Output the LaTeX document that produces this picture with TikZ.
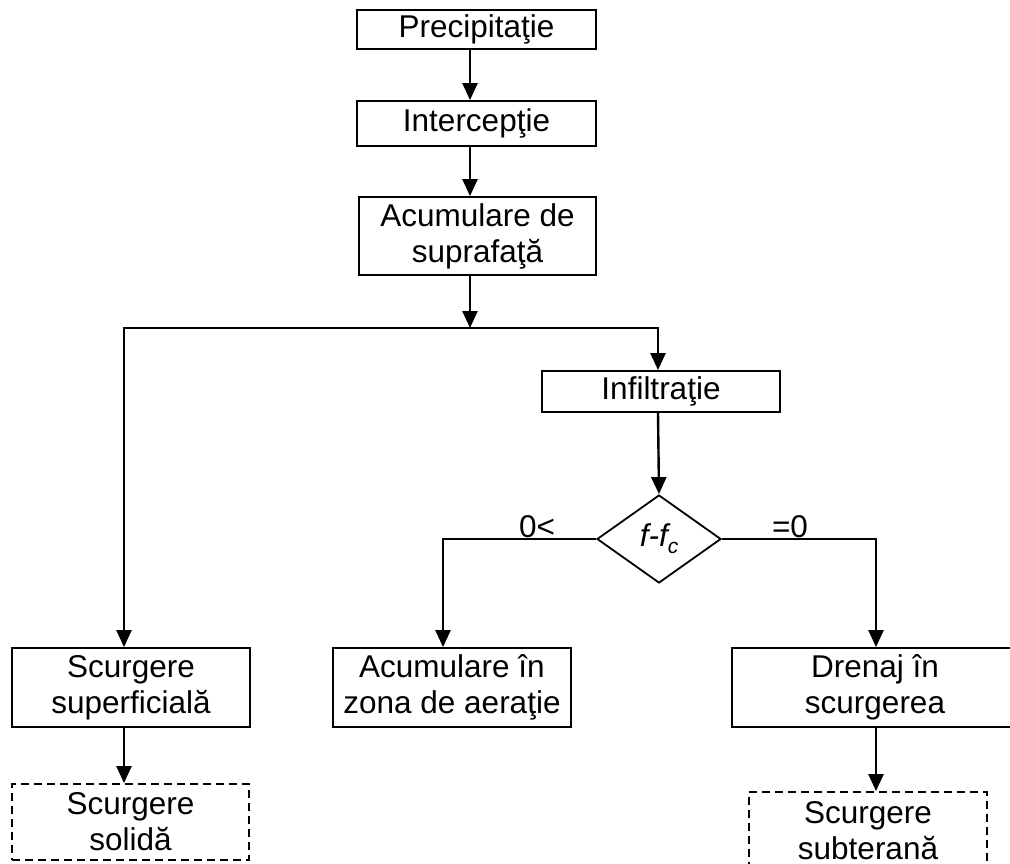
\documentclass[tikz,border=0pt]{standalone}
\usepackage{fontspec}
\setmainfont{Liberation Sans}
\usetikzlibrary{shapes.geometric,arrows.meta}
\begin{document}
\begin{tikzpicture}[x=1pt,y=-1pt,
  txt/.style={font=\fontsize{31.5}{36}\selectfont},
  box/.style={txt, draw, line width=1.8pt, rectangle, inner sep=0pt, align=center},
  dbox/.style={box, dash pattern=on 8pt off 5pt},
  arr/.style={line width=2.4pt, -{Triangle[length=17pt,width=15pt]}},
  lab/.style={txt, inner sep=0pt}]
\useasboundingbox (0,0) rectangle (1010,863);
\clip (0,0) rectangle (1010,863);
% boxes
\node[box, minimum width=239pt, minimum height=39pt] (prec) at (476.5,29.5) {Precipitaţie};
\node[box, minimum width=239pt, minimum height=45pt] (inter) at (476.5,123.5) {Intercepţie};
\node[box, minimum width=237pt, minimum height=78pt] (acum) at (477.5,236) {Acumulare de\\suprafaţă};
\node[box, minimum width=238pt, minimum height=41pt] (infil) at (661,391.5) {Infiltraţie};
\node[txt, draw, diamond, line width=1.8pt, minimum width=124pt, minimum height=88pt, inner sep=0pt] (dia) at (659,539)
  {\itshape f-f\raisebox{-7pt}{\fontsize{21}{21}\selectfont c}};
\node[box, minimum width=238pt, minimum height=79pt] (ssup) at (131,687.5) {Scurgere\\superficială};
\node[box, minimum width=238pt, minimum height=79pt] (acz) at (452,687.5) {Acumulare în\\zona de aeraţie};
\node[box, minimum width=286pt, minimum height=79pt] (dren) at (875,687.5) {Drenaj în\\scurgerea};
\node[dbox, minimum width=237pt, minimum height=76pt] (solid) at (130.5,822) {Scurgere\\solidă};
\node[dbox, minimum width=238pt, minimum height=78pt] (subt) at (868,831) {Scurgere\\subterană};
% helper coordinates
\coordinate (ax) at (470,0);
\coordinate (split) at (470,328);
\coordinate (lx) at (124,0);
\coordinate (rx) at (658,0);
\coordinate (l2) at (443,0);
\coordinate (r2) at (876,0);
% connectors
\draw[arr] (prec.south -| ax) -- (inter.north -| ax);
\draw[arr] (inter.south -| ax) -- (acum.north -| ax);
\draw[arr] (acum.south -| ax) -- (split);
\draw[arr] (split) -| (ssup.north -| lx);
\draw[arr] (split) -| (infil.north -| rx);
\draw[arr] (infil.south -| rx) -- (dia.north);
\draw[arr] (dia.west) -| (acz.north -| l2);
\draw[arr] (dia.east) -| (dren.north -| r2);
\draw[arr] (ssup.south -| lx) -- (solid.north -| lx);
\draw[arr] (dren.south -| r2) -- (subt.north -| r2);
% labels
\node[lab, anchor=base] (l0) at (537,537) {0<};
\node[lab, anchor=base] (l1) at (790,537) {=0};
\end{tikzpicture}
\end{document}
